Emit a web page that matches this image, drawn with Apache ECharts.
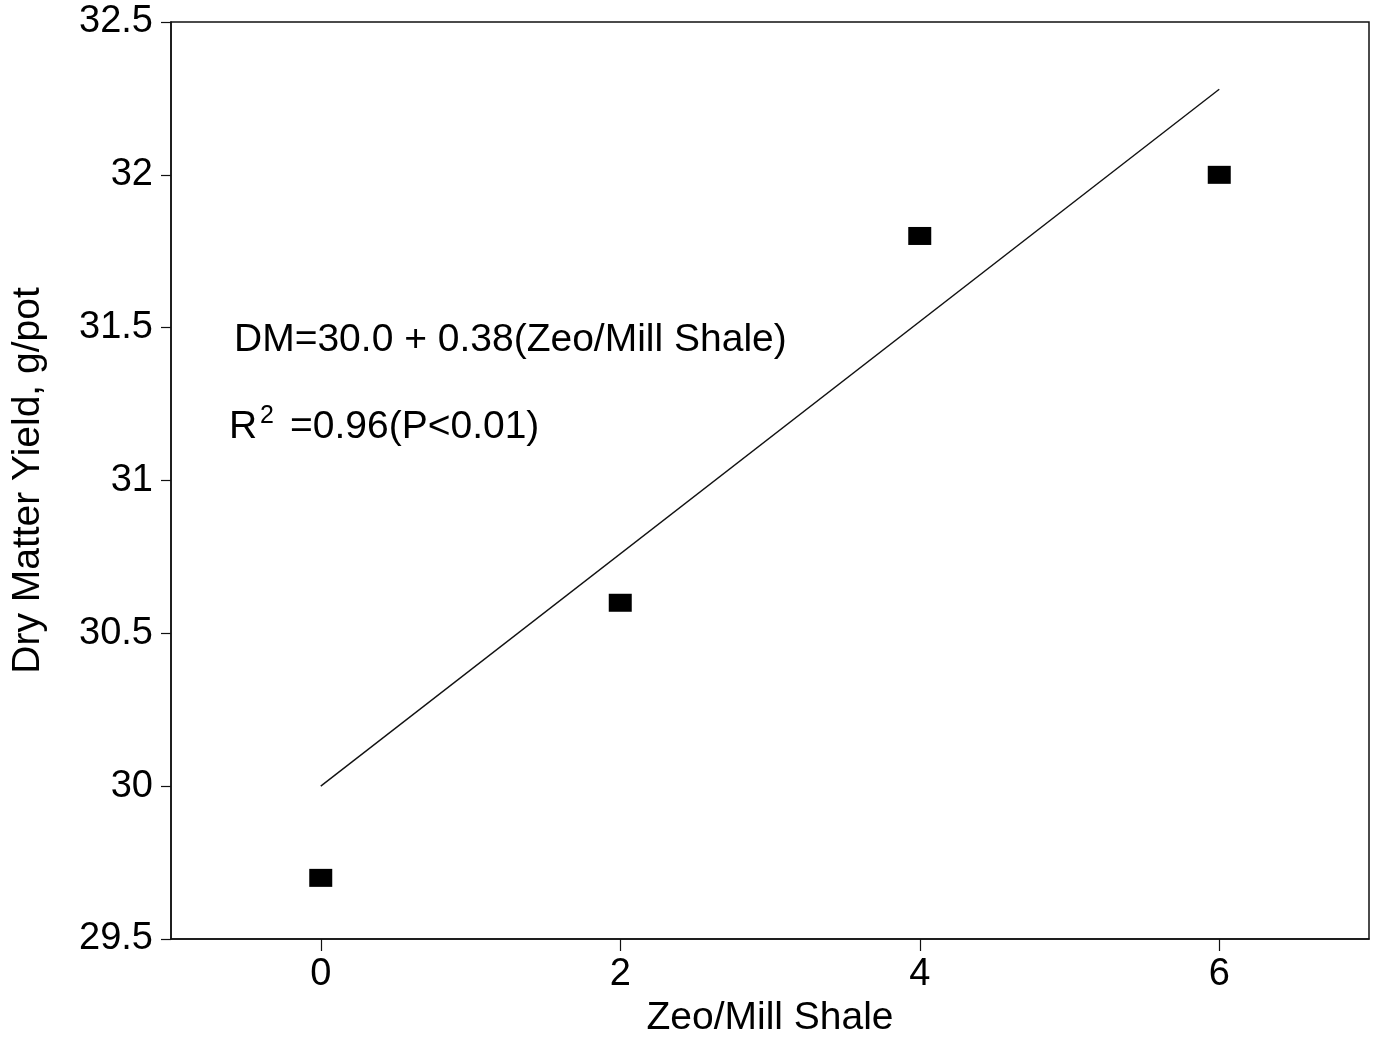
<!DOCTYPE html>
<html>
<head>
<meta charset="utf-8">
<script src="https://cdn.jsdelivr.net/npm/echarts@6/dist/echarts.min.js"></script>
<style>
  html, body { margin: 0; padding: 0; background: #fff; }
  #chart { width: 1373px; height: 1043px; }
</style>
</head>
<body>
<div id="chart"></div>
<script>
// Data
const xValues = [0, 2, 4, 6];
const yieldValues = [29.7, 30.6, 31.8, 32.0];
const fitLine = [[0, 30.0], [6, 32.28]];
const xTickValues = [0, 2, 4, 6];
const equationText = 'DM=30.0 + 0.38(Zeo/Mill Shale)';
const r2Label = 'R';
const r2Sup = '2';
const r2Text = '=0.96(P<0.01)';

const FONT = '"Liberation Sans", Arial, Helvetica, sans-serif';
const INK = '#000';

const chart = echarts.init(document.getElementById('chart'), null, { renderer: 'canvas' });

const option = {
  backgroundColor: '#fff',
  animation: false,
  grid: {
    left: 171, right: 4, top: 22, bottom: 102,
    show: true, borderColor: '#111', borderWidth: 1.5, backgroundColor: 'transparent'
  },
  xAxis: {
    type: 'value',
    min: -1, max: 7, interval: 1,
    name: 'Zeo/Mill Shale',
    nameLocation: 'middle',
    nameGap: 60,
    nameTextStyle: { fontFamily: FONT, fontSize: 39, color: INK },
    axisLine: { show: true, onZero: false, lineStyle: { color: '#111', width: 1.5 } },
    axisTick: { show: true, inside: false, length: 12, customValues: xTickValues, lineStyle: { color: '#111', width: 1.2 } },
    axisLabel: { customValues: xTickValues, margin: 17, fontFamily: FONT, fontSize: 38, color: INK },
    splitLine: { show: false }
  },
  yAxis: {
    type: 'value',
    min: 29.5, max: 32.5, interval: 0.5,
    name: 'Dry Matter Yield, g/pot',
    nameLocation: 'middle',
    nameRotate: 90,
    nameGap: 123,
    nameTextStyle: { fontFamily: FONT, fontSize: 39, color: INK },
    axisLine: { show: true, onZero: false, lineStyle: { color: '#111', width: 1.5 } },
    axisTick: { show: true, inside: false, length: 10, lineStyle: { color: '#111', width: 1.2 } },
    axisLabel: { margin: 18, fontFamily: FONT, fontSize: 38, color: INK },
    splitLine: { show: false }
  },
  series: [
    {
      type: 'line',
      data: fitLine,
      symbol: 'none',
      lineStyle: { color: '#111', width: 1.4 },
      z: 2
    },
    {
      type: 'scatter',
      data: xValues.map((x, i) => [x, yieldValues[i]]),
      symbol: 'rect',
      symbolSize: [23, 18],
      itemStyle: { color: '#000', opacity: 1 },
      z: 3
    }
  ],
  graphic: [
    {
      type: 'text',
      left: 234, top: 321,
      style: { text: equationText, fontFamily: FONT, fontSize: 39, fill: INK }
    },
    {
      type: 'text',
      left: 229, top: 408,
      style: { text: r2Label, fontFamily: FONT, fontSize: 39, fill: INK }
    },
    {
      type: 'text',
      left: 260, top: 404,
      style: { text: r2Sup, fontFamily: FONT, fontSize: 25, fill: INK }
    },
    {
      type: 'text',
      left: 290, top: 408,
      style: { text: r2Text, fontFamily: FONT, fontSize: 39, fill: INK }
    }
  ]
};

chart.setOption(option);
</script>
</body>
</html>
